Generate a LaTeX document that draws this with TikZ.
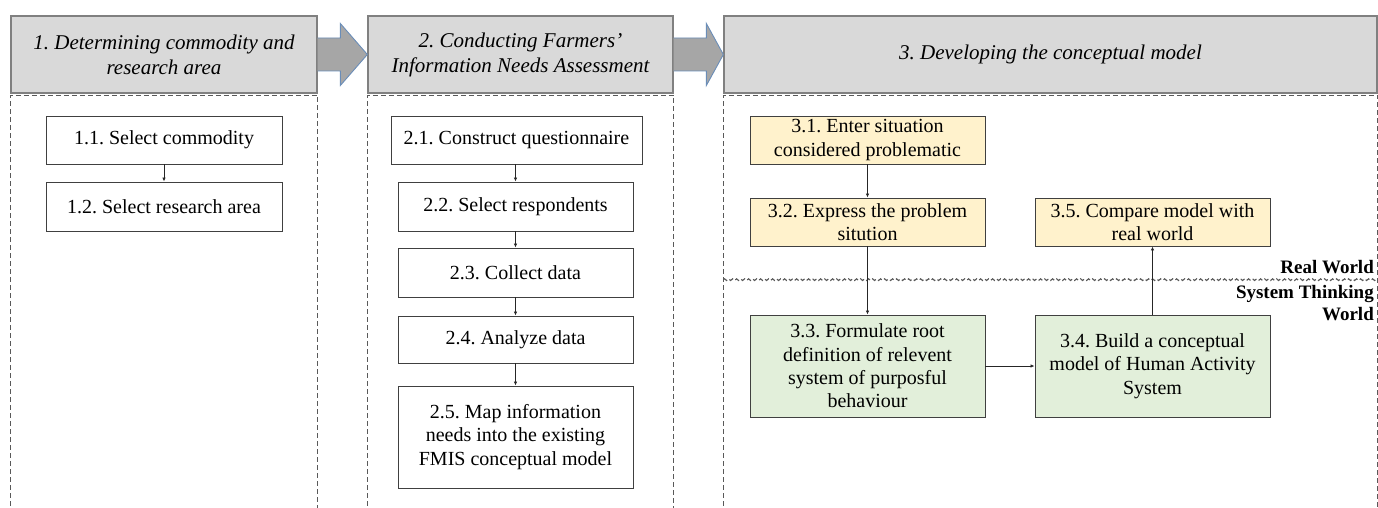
\documentclass[tikz,border=0pt]{standalone}
\usepackage{fontspec}
\setmainfont{Liberation Serif}
\frenchspacing
\usetikzlibrary{calc,arrows.meta,decorations.pathmorphing}
\definecolor{hdrfill}{HTML}{D9D9D9}
\definecolor{hdrline}{HTML}{808080}
\definecolor{arrfill}{HTML}{A6A6A6}
\definecolor{arrline}{HTML}{6A8DB8}
\definecolor{yelfill}{HTML}{FFF2CC}
\definecolor{grnfill}{HTML}{E2EFDA}
\definecolor{boxline}{HTML}{404040}
\definecolor{frameline}{HTML}{595959}
\begin{document}
\begin{tikzpicture}[x=1pt,y=-1pt,
  hdr/.style={draw=hdrline, fill=hdrfill, line width=1.3pt, align=center, inner sep=0pt,
    font=\itshape\fontsize{21}{25}\selectfont},
  stepbox/.style={draw=boxline, line width=0.9pt, fill=white, align=center, inner sep=0pt,
    font=\fontsize{20}{23.3}\selectfont},
  yelbox/.style={stepbox, fill=yelfill},
  grnbox/.style={stepbox, fill=grnfill},
  bigarrow/.style={draw=arrline, fill=arrfill, line width=0.9pt, line join=miter},
  framebox/.style={draw=frameline, line width=0.8pt, dash pattern=on 5pt off 3pt},
  link/.style={draw=black!85, line width=0.8pt, -{Latex[length=4pt,width=3.5pt]}},
  zone/.style={font=\bfseries\fontsize{19}{22}\selectfont, align=right, inner sep=0pt}
]
\useasboundingbox (0,0) rectangle (1378,508);

% headers
\node[hdr, minimum width=306pt, minimum height=77pt] (h1) at (164,54.5)
  {1. Determining commodity and\\research area};
\node[hdr, minimum width=305pt, minimum height=77pt] (h2) at (520.5,54.5)
  {2. Conducting Farmers'\\Information Needs Assessment};
\node[hdr, minimum width=653pt, minimum height=77pt] (h3) at (1050.5,54.5)
  {3. Developing the conceptual model};

% big arrows between headers
\draw[bigarrow] ($(h1.east)+(0,-16.5)$) -- ($(h2.west)+(-27,-16.5)$) -- ($(h2.west)+(-27,-31)$)
  -- (h2.west) -- ($(h2.west)+(-27,31)$) -- ($(h2.west)+(-27,16.5)$) -- ($(h1.east)+(0,16.5)$);
\draw[bigarrow] ($(h2.east)+(0,-16.5)$) -- ($(h3.west)+(-17,-16.5)$) -- ($(h3.west)+(-17,-31)$)
  -- (h3.west) -- ($(h3.west)+(-17,31)$) -- ($(h3.west)+(-17,16.5)$) -- ($(h2.east)+(0,16.5)$);

% dashed frames
\draw[framebox] ($(h1.south west)+(0,420)$) -- ($(h1.south west)+(0,1.5)$) -- ($(h1.south east)+(0,1.5)$) -- ($(h1.south east)+(0,420)$);
\draw[framebox] ($(h2.south west)+(0,420)$) -- ($(h2.south west)+(0,1.5)$) -- ($(h2.south east)+(0,1.5)$) -- ($(h2.south east)+(0,420)$);
\draw[framebox] ($(h3.south west)+(0,420)$) -- ($(h3.south west)+(0,1.5)$) -- ($(h3.south east)+(0,1.5)$) -- ($(h3.south east)+(0,420)$);

% divider between worlds
\coordinate (dl) at ($(h3.south west)+(0,186)$);
\coordinate (dr) at ($(h3.south east)+(0,186)$);
\draw[framebox, line width=1.1pt, decorate, decoration={snake, amplitude=0.9pt, segment length=4pt}] (dl) -- (dr);
\node[zone, anchor=south east] (rw) at (1374,274) {Real World};
\node[zone, anchor=north east] (stw) at (1374,285) {System Thinking\\World};

% section 1
\node[stepbox, minimum width=236pt, minimum height=48pt] (s11) at (164,140) {1.1. Select commodity};
\node[stepbox, minimum width=236pt, minimum height=49pt] (s12) at (164,206.5) {1.2. Select research area};
\draw[link] (s11) -- (s12);

% section 2
\node[stepbox, minimum width=251pt, minimum height=48pt] (s21) at (516.5,140) {2.1. Construct questionnaire};
\node[stepbox, minimum width=235pt, minimum height=49pt] (s22) at (515.5,206.5) {2.2. Select respondents};
\node[stepbox, minimum width=235pt, minimum height=49pt] (s23) at (515.5,272.5) {2.3. Collect data};
\node[stepbox, minimum width=235pt, minimum height=47pt] (s24) at (515.5,339.5) {2.4. Analyze data};
\node[stepbox, minimum width=235pt, minimum height=102pt] (s25) at (515.5,437) {2.5. Map information\\needs into the existing\\FMIS conceptual model};
\draw[link] (s21.south -| s22) -- (s22);
\draw[link] (s22) -- (s23);
\draw[link] (s23) -- (s24);
\draw[link] (s24) -- (s25);

% section 3
\node[yelbox, minimum width=235pt, minimum height=48pt] (s31) at (867.5,140) {3.1. Enter situation\\considered problematic};
\node[yelbox, minimum width=235pt, minimum height=48pt] (s32) at (867.5,222) {3.2. Express the problem\\sitution};
\node[yelbox, minimum width=235pt, minimum height=48pt] (s35) at (1152.5,222) {3.5. Compare model with\\real world};
\node[grnbox, minimum width=235pt, minimum height=102pt] (s33) at (867.5,366) {3.3. Formulate root\\definition of relevent\\system of purposful\\behaviour};
\node[grnbox, minimum width=235pt, minimum height=102pt] (s34) at (1152.5,366) {3.4. Build a conceptual\\model of Human Activity\\System};
\draw[link] (s31) -- (s32);
\draw[link] (s32) -- (s33);
\draw[link] (s33) -- (s34);
\draw[link] (s34) -- (s35);
\end{tikzpicture}
\end{document}
